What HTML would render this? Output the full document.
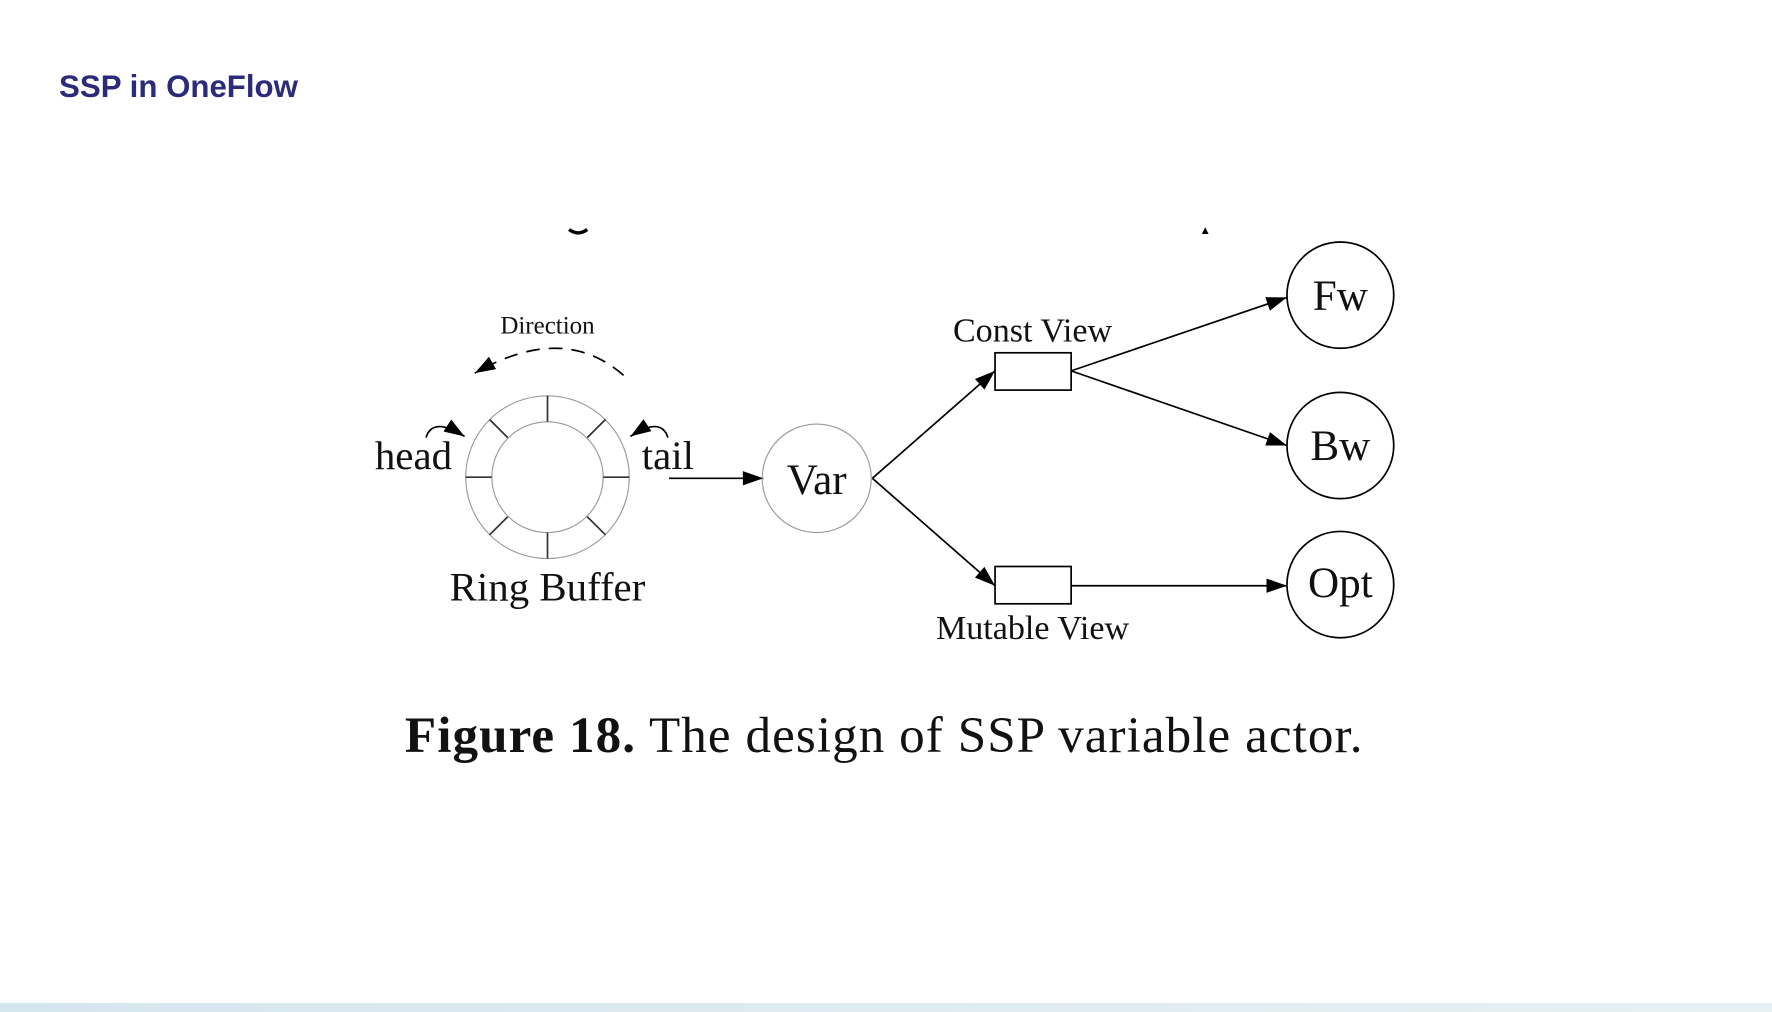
<!DOCTYPE html>
<html><head><meta charset="utf-8"><style>
html,body{margin:0;padding:0;background:#fff;}
svg{display:block;}
</style></head><body>
<svg width="1772" height="1012" viewBox="0 0 1560 895" preserveAspectRatio="none" xmlns="http://www.w3.org/2000/svg">
<defs>
<marker id="ahb" viewBox="0 0 10 10" refX="10" refY="5" markerWidth="26" markerHeight="18" markerUnits="userSpaceOnUse" orient="auto">
<path d="M0,1.5 L10,5 L0,8.5 z" fill="#000"/></marker>
<linearGradient id="bar" x1="0" x2="1"><stop offset="0" stop-color="#d6e6ee"/><stop offset="1" stop-color="#e6f0f4"/></linearGradient>
</defs>
<rect width="1560" height="895" fill="#fff"/>
<text x="52" y="86" font-family="Liberation Sans, sans-serif" font-weight="bold" font-size="27.5" fill="#2b2b7a">SSP in OneFlow</text>
<g transform="translate(-9,0)">
<path d="M510,203 q8,6 16,0" stroke="#000" stroke-width="3" fill="none"/>
<path d="M1067,207 l6,0 l-3,-6 z" fill="#000"/>
<g font-family="Liberation Serif, serif" fill="#111">
<text x="491" y="295" font-size="22" text-anchor="middle">Direction</text>
<text x="373" y="415" font-size="36" text-anchor="middle">head</text>
<text x="597" y="415" font-size="36" text-anchor="middle">tail</text>
<text x="491" y="531" font-size="36" text-anchor="middle">Ring Buffer</text>
<text x="728" y="437" font-size="38" text-anchor="middle">Var</text>
<text x="918" y="302" font-size="30" text-anchor="middle">Const View</text>
<text x="918" y="565" font-size="30" text-anchor="middle">Mutable View</text>
<text x="1189" y="274" font-size="38" text-anchor="middle">Fw</text>
<text x="1189" y="407" font-size="38" text-anchor="middle">Bw</text>
<text x="1189" y="528" font-size="38" text-anchor="middle">Opt</text>
</g>
<g stroke="#999" fill="none" stroke-width="1">
<circle cx="491" cy="422" r="72"/><circle cx="491" cy="422" r="49"/>
</g>
<g stroke="#333" stroke-width="1.5">
<line x1="491" y1="350" x2="491" y2="373"/><line x1="491" y1="471" x2="491" y2="494"/>
<line x1="419" y1="422" x2="442" y2="422"/><line x1="540" y1="422" x2="563" y2="422"/>
<line x1="440" y1="371" x2="456" y2="387"/><line x1="542" y1="371" x2="526" y2="387"/>
<line x1="440" y1="473" x2="456" y2="457"/><line x1="542" y1="473" x2="526" y2="457"/>
</g>
<path d="M558,332 Q505,285 427,330" stroke="#000" stroke-width="1.5" fill="none" stroke-dasharray="12,8" marker-end="url(#ahb)"/>
<path d="M384,387 Q390,368 418,386" stroke="#000" stroke-width="1.5" fill="none" marker-end="url(#ahb)"/>
<path d="M597,387 Q591,368 564,386" stroke="#000" stroke-width="1.5" fill="none" marker-end="url(#ahb)"/>
<g stroke="#000" stroke-width="1.5" fill="none">
<line x1="598" y1="423" x2="681" y2="423" marker-end="url(#ahb)"/>
<line x1="777" y1="423" x2="885" y2="328" marker-end="url(#ahb)"/>
<line x1="777" y1="423" x2="885" y2="518" marker-end="url(#ahb)"/>
<line x1="952" y1="328" x2="1142" y2="263" marker-end="url(#ahb)"/>
<line x1="952" y1="328" x2="1142" y2="394" marker-end="url(#ahb)"/>
<line x1="952" y1="518" x2="1142" y2="518" marker-end="url(#ahb)"/>
<rect x="885" y="312" width="67" height="33"/>
<rect x="885" y="501" width="67" height="33"/>
<circle cx="1189" cy="261" r="47"/>
<circle cx="1189" cy="394" r="47"/>
<circle cx="1189" cy="517" r="47"/>
</g>
<circle cx="728" cy="423" r="48" stroke="#999" stroke-width="1" fill="none"/>
</g>
<text x="778" y="665" font-family="Liberation Serif, serif" fill="#111" font-size="45" text-anchor="middle" textLength="843" lengthAdjust="spacing"><tspan font-weight="bold">Figure 18.</tspan> The design of SSP variable actor.</text>
<rect x="0" y="887" width="1560" height="8" fill="url(#bar)"/>
</svg>
</body></html>
